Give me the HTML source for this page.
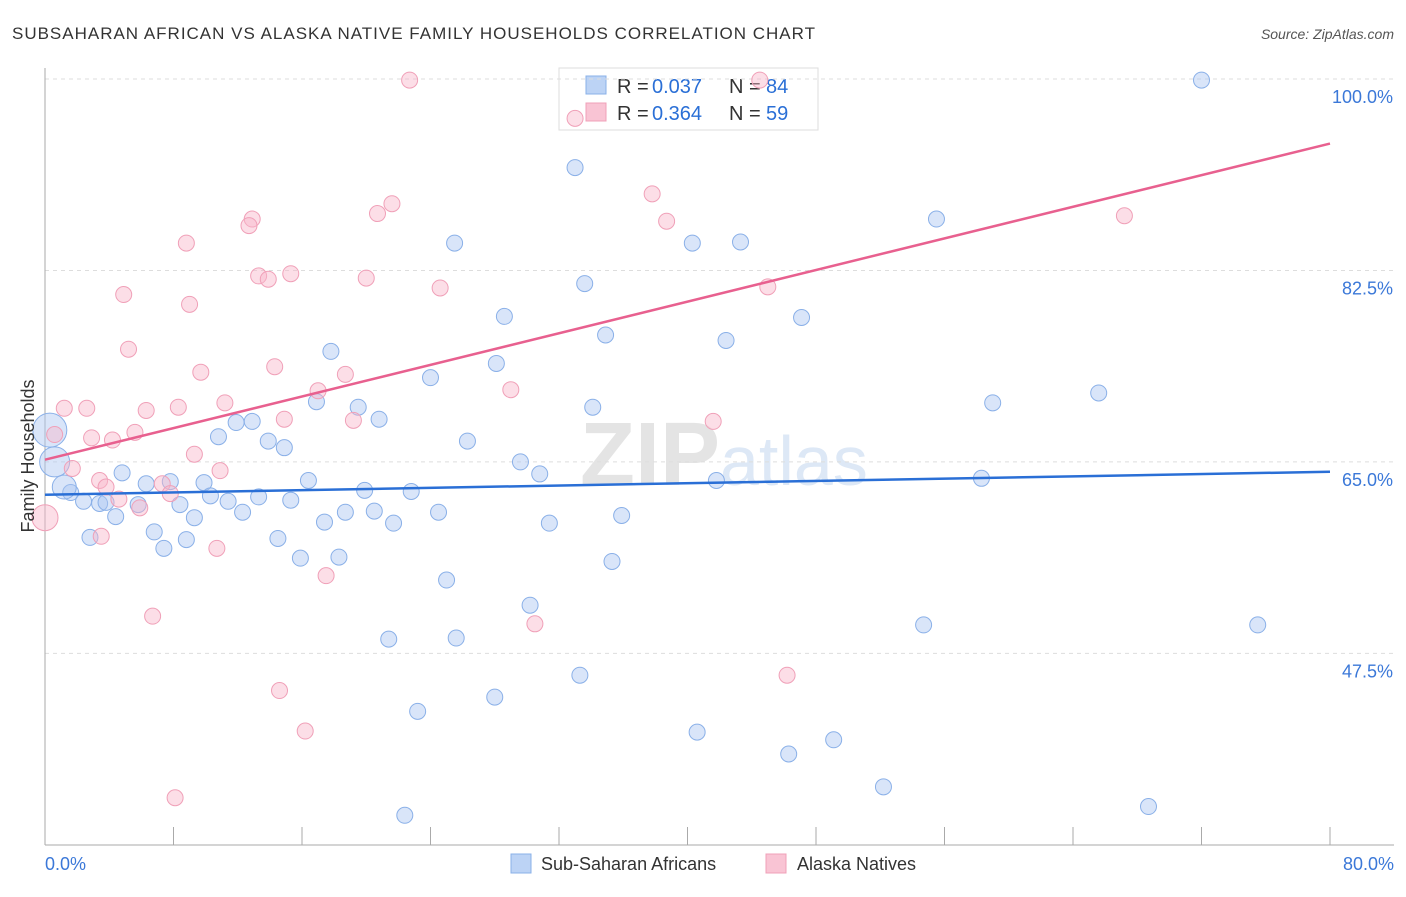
<!DOCTYPE html>
<html><head><meta charset="utf-8"><style>
body{margin:0;background:#fff;font-family:"Liberation Sans",sans-serif;}
svg text{font-family:"Liberation Sans",sans-serif;}
</style></head><body>
<svg id="chart" width="1406" height="892">
<text x="12" y="39" font-size="17" fill="#333" textLength="803">SUBSAHARAN AFRICAN VS ALASKA NATIVE FAMILY HOUSEHOLDS CORRELATION CHART</text>
<text x="1394" y="39" font-size="14" fill="#555" text-anchor="end" font-style="italic">Source: ZipAtlas.com</text>
<text x="720" y="485" font-size="90" fill="#e4e4e4" text-anchor="end" font-family="Liberation Serif" font-weight="bold">ZIP</text>
<text x="720" y="485" font-size="70" fill="#dde8f6">atlas</text>
<g>
<rect x="559" y="68" width="259" height="62" fill="#fff" stroke="#ddd"/>
<rect x="586" y="76" width="20" height="18" fill="#bcd3f5" stroke="#8ab0e8"/>
<rect x="586" y="103" width="20" height="18" fill="#f9c4d4" stroke="#f0a0b8"/>
<text x="617" y="93" font-size="20" fill="#333">R =</text>
<text x="652" y="93" font-size="20" fill="#2a6fd6">0.037</text>
<text x="729" y="93" font-size="20" fill="#333">N =</text>
<text x="766" y="93" font-size="20" fill="#2a6fd6">84</text>
<text x="617" y="120" font-size="20" fill="#333">R =</text>
<text x="652" y="120" font-size="20" fill="#2a6fd6">0.364</text>
<text x="729" y="120" font-size="20" fill="#333">N =</text>
<text x="766" y="120" font-size="20" fill="#2a6fd6">59</text>
</g>
<g id="grid"></g><g id="axes"></g><g id="pts"></g><g id="trends"></g>
<text transform="translate(34,456) rotate(-90)" font-size="18" fill="#333" text-anchor="middle">Family Households</text>
<text x="45" y="870" font-size="18" fill="#3b78d8">0.0%</text>
<text x="1394" y="870" font-size="18" fill="#3b78d8" text-anchor="end">80.0%</text>
<g>
<rect x="511" y="854" width="20" height="19" fill="#bcd3f5" stroke="#8ab0e8"/>
<text x="541" y="870" font-size="18" fill="#333">Sub-Saharan Africans</text>
<rect x="766" y="854" width="20" height="19" fill="#f9c4d4" stroke="#f0a0b8"/>
<text x="797" y="870" font-size="18" fill="#333">Alaska Natives</text>
</g>
</svg>
<script>
const yTicks=[100,82.5,65,47.5];
const xTicks=[0,8,16,24,32,40,48,56,64,72,80];
const blueX=[72.0,33.0,25.5,40.3,43.3,55.5,33.6,28.6,47.1,34.9,42.4,17.8,28.1,24.0,59.0,65.6,16.9,19.5,34.1,20.8,11.9,12.9,10.8,13.9,14.9,26.3,29.6,30.8,4.8,41.8,58.3,7.8,6.3,9.9,16.4,19.9,22.8,10.3,13.3,15.3,1.6,2.4,3.4,3.8,5.8,8.4,11.4,12.3,18.7,20.5,24.5,35.9,4.4,9.3,17.4,21.7,31.4,6.8,2.8,8.8,14.5,7.4,15.9,18.3,35.3,25.0,30.2,21.4,25.6,54.7,75.5,33.3,28.0,23.2,40.6,49.1,46.3,52.2,68.7,22.4,0.3,0.6,1.2];
const blueY=[99.9,91.9,85.0,85.0,85.1,87.2,81.3,78.3,78.2,76.6,76.1,75.1,74.0,72.7,70.4,71.3,70.5,70.0,70.0,68.9,68.6,68.7,67.3,66.9,66.3,66.9,65.0,63.9,64.0,63.3,63.5,63.2,63.0,63.1,63.3,62.4,62.3,61.9,61.8,61.5,62.2,61.4,61.2,61.3,61.1,61.1,61.4,60.4,60.4,60.5,60.4,60.1,60.0,59.9,59.5,59.4,59.4,58.6,58.1,57.9,58.0,57.1,56.2,56.3,55.9,54.2,51.9,48.8,48.9,50.1,50.1,45.5,43.5,42.2,40.3,39.6,38.3,35.3,33.5,32.7,67.9,65.0,62.7];
const blueSize=[8,8,8,8,8,8,8,8,8,8,8,8,8,8,8,8,8,8,8,8,8,8,8,8,8,8,8,8,8,8,8,8,8,8,8,8,8,8,8,8,8,8,8,8,8,8,8,8,8,8,8,8,8,8,8,8,8,8,8,8,8,8,8,8,8,8,8,8,8,8,8,8,8,8,8,8,8,8,8,8,17,15,12];
const pinkX=[22.7,44.5,33.0,37.8,21.6,20.7,12.9,12.7,38.7,67.2,8.8,15.3,13.3,13.9,20.0,24.6,4.9,45.0,9.0,5.2,9.7,14.3,18.7,17.0,29.0,1.2,2.6,6.3,8.3,11.2,14.9,19.2,41.6,5.6,2.9,4.2,0.6,9.3,1.7,10.9,3.4,3.8,7.3,7.8,4.6,5.9,3.5,10.7,17.5,6.7,30.5,46.2,14.6,16.2,8.1,0];
const pinkY=[99.9,99.9,96.4,89.5,88.6,87.7,87.2,86.6,87.0,87.5,85.0,82.2,82.0,81.7,81.8,80.9,80.3,81.0,79.4,75.3,73.2,73.7,73.0,71.5,71.6,69.9,69.9,69.7,70.0,70.4,68.9,68.8,68.7,67.7,67.2,67.0,67.5,65.7,64.4,64.2,63.3,62.7,63.0,62.1,61.6,60.8,58.2,57.1,54.6,50.9,50.2,45.5,44.1,40.4,34.3,59.9];
const pinkSize=[8,8,8,8,8,8,8,8,8,8,8,8,8,8,8,8,8,8,8,8,8,8,8,8,8,8,8,8,8,8,8,8,8,8,8,8,8,8,8,8,8,8,8,8,8,8,8,8,8,8,8,8,8,8,8,13];
const blueTrend=[62.0,64.1];
const pinkTrend=[65.2,94.1];
const X=v=>45+v/80*1285;
const Y=v=>79+(100-v)*10.94;
const NS='http://www.w3.org/2000/svg';
function mk(tag,attrs,parent){const e=document.createElementNS(NS,tag);for(const k in attrs)e.setAttribute(k,attrs[k]);parent.appendChild(e);return e;}
const grid=document.getElementById('grid'),axes=document.getElementById('axes'),pts=document.getElementById('pts'),tr=document.getElementById('trends');
yTicks.forEach(t=>{
 const l=mk('line',{x1:45,x2:1394,y1:Y(t),y2:Y(t),stroke:'#ddd','stroke-dasharray':'4,4'},grid);
 
 
 const tx=mk('text',{x:1393,y:Y(t)+24,'font-size':18,fill:'#3b78d8','text-anchor':'end'},grid);
 tx.textContent=t.toFixed(1)+'%';
 
 
});
const ax=mk('line',{x1:45,x2:1394,y1:845,y2:845,stroke:'#aaa'},axes);


const ay=mk('line',{x1:45,x2:45,y1:68,y2:845,stroke:'#aaa'},axes);


xTicks.forEach(t=>{
 const l=mk('line',{x1:X(t),x2:X(t),y1:827,y2:845,stroke:'#aaa'},axes);
 
 
});
blueX.forEach((v,i)=>{
 const c=mk('circle',{cx:X(v),cy:Y(blueY[i]),r:blueSize[i],fill:'rgba(170,198,242,0.45)',stroke:'#8ab0e8','stroke-width':1},pts);
 
 
});
pinkX.forEach((v,i)=>{
 const c=mk('circle',{cx:X(v),cy:Y(pinkY[i]),r:pinkSize[i],fill:'rgba(248,182,202,0.45)',stroke:'#f0a0b8','stroke-width':1},pts);
 
 
});
const bl=mk('line',{x1:X(0),x2:X(80),y1:Y(blueTrend[0]),y2:Y(blueTrend[1]),stroke:'#2a6fd6','stroke-width':2.5},tr);


const pl=mk('line',{x1:X(0),x2:X(80),y1:Y(pinkTrend[0]),y2:Y(pinkTrend[1]),stroke:'#e8608f','stroke-width':2.5},tr);


</script>
</body></html>
